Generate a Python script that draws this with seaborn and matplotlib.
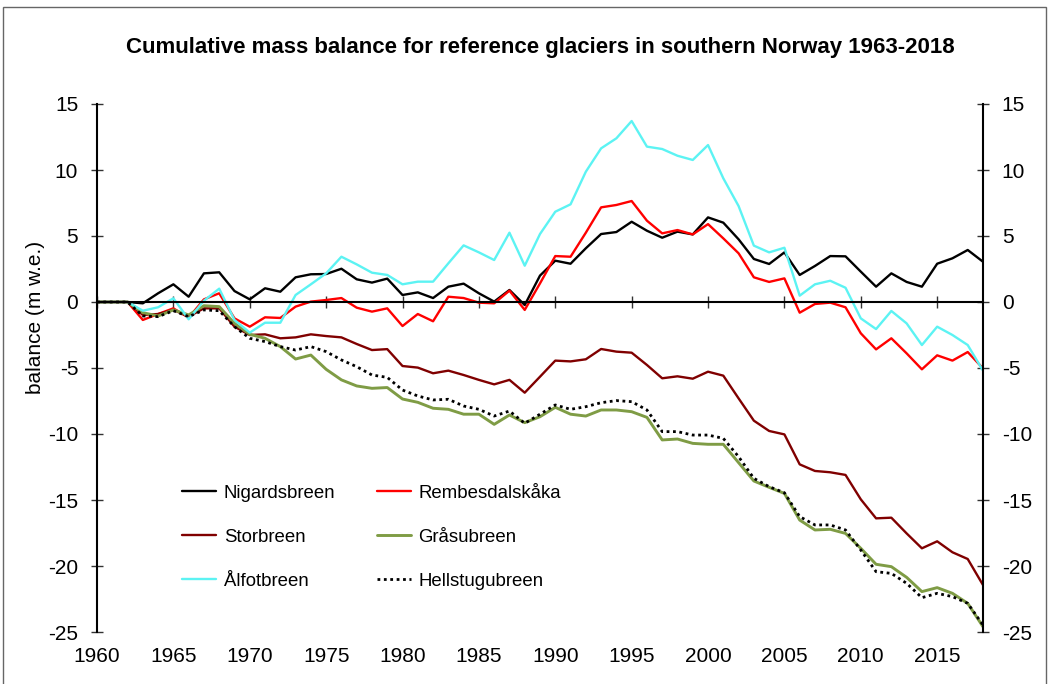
import numpy as np
import pandas as pd
import seaborn as sns
import matplotlib.pyplot as plt
from matplotlib.patches import Rectangle

years = list(range(1960, 2019))

nigardsbreen = [0, 0, 0, -0.1, 0.66, 1.34, 0.4, 2.17, 2.25, 0.83, 0.2, 1.04, 0.78, 1.87, 2.1, 2.12, 2.52, 1.72, 1.47, 1.77,
                0.53, 0.73, 0.3, 1.16, 1.39, 0.66, 0.03, 0.91, -0.23, 2.0, 3.13, 2.9, 4.07, 5.15, 5.3, 6.08, 5.4, 4.87, 5.33,
                5.12, 6.41, 6.01, 4.75, 3.26, 2.88, 3.76, 2.05, 2.73, 3.48, 3.46, 2.3, 1.16, 2.17, 1.52, 1.16, 2.9, 3.31, 3.94, 3.05]
rembesdalskaka = [0, 0, 0, -1.36, -0.91, -0.48, -1.19, 0.2, 0.66, -1.24, -1.87, -1.16, -1.21, -0.35, 0.03, 0.15, 0.3, -0.43, -0.73, -0.48,
                  -1.82, -0.91, -1.46, 0.4, 0.3, -0.05, -0.1, 0.86, -0.6, 1.41, 3.48, 3.43, 5.25, 7.17, 7.35, 7.65, 6.16, 5.2, 5.45,
                  5.12, 5.9, 4.82, 3.69, 1.87, 1.52, 1.79, -0.81, -0.15, -0.05, -0.4, -2.37, -3.59, -2.75, -3.89, -5.1, -4.04, -4.44, -3.79, -5.03]
storbreen = [0, 0, 0, -0.98, -0.91, -0.6, -1.11, -0.48, -0.48, -1.87, -2.5, -2.45, -2.75, -2.68, -2.45, -2.58, -2.68, -3.18, -3.64, -3.57,
             -4.85, -4.97, -5.4, -5.2, -5.53, -5.9, -6.24, -5.9, -6.87, -5.66, -4.44, -4.5, -4.34, -3.56, -3.76, -3.84, -4.77, -5.78, -5.63,
             -5.81, -5.28, -5.58, -7.3, -8.99, -9.77, -10.03, -12.3, -12.8, -12.9, -13.1, -14.95, -16.39, -16.34, -17.53, -18.66, -18.13, -18.96, -19.47, -21.44]
grasubreen = [0, 0, 0, -0.81, -1.06, -0.6, -0.98, -0.28, -0.35, -1.62, -2.45, -2.75, -3.38, -4.32, -4.02, -5.1, -5.9, -6.36, -6.54, -6.48,
              -7.35, -7.6, -8.05, -8.13, -8.5, -8.5, -9.27, -8.56, -9.14, -8.69, -7.98, -8.5, -8.64, -8.18, -8.18, -8.31, -8.74, -10.45, -10.38,
              -10.71, -10.78, -10.78, -12.17, -13.56, -14.04, -14.5, -16.52, -17.27, -17.22, -17.53, -18.66, -19.87, -20.05, -20.86, -21.94, -21.64, -22.07, -22.83, -24.6]
alfotbreen = [0, 0, 0, -0.66, -0.4, 0.28, -1.31, 0.1, 1.01, -1.36, -2.32, -1.57, -1.57, 0.53, 1.34, 2.17, 3.43, 2.85, 2.22, 2.05,
              1.34, 1.54, 1.54, 2.93, 4.29, 3.76, 3.18, 5.25, 2.75, 5.15, 6.84, 7.4, 9.87, 11.64, 12.4, 13.71, 11.77, 11.59, 11.08,
              10.76, 11.89, 9.37, 7.27, 4.27, 3.76, 4.11, 0.48, 1.34, 1.61, 1.08, -1.24, -2.05, -0.68, -1.62, -3.26, -1.87, -2.5, -3.26, -5.2]
hellstugubreen = [0, 0, 0, -1.06, -1.11, -0.66, -1.11, -0.6, -0.66, -1.87, -2.75, -3.0, -3.38, -3.64, -3.38, -3.76, -4.39, -4.9, -5.53, -5.71,
                  -6.67, -7.12, -7.42, -7.37, -7.88, -8.13, -8.64, -8.26, -9.19, -8.5, -7.8, -8.13, -7.93, -7.63, -7.47, -7.55, -8.18, -9.82, -9.82,
                  -10.08, -10.08, -10.33, -11.72, -13.36, -13.99, -14.45, -16.26, -16.89, -16.89, -17.27, -18.79, -20.43, -20.56, -21.31, -22.4, -22.07, -22.32, -22.83, -24.47]

series = [
    ('Nigardsbreen', nigardsbreen, 'black', 1.7, '-'),
    ('Rembesdalskåka', rembesdalskaka, '#ff0000', 1.7, '-'),
    ('Storbreen', storbreen, '#800000', 1.7, '-'),
    ('Gråsubreen', grasubreen, '#7f9c45', 2.1, '-'),
    ('Ålfotbreen', alfotbreen, '#5cf3f3', 1.7, '-'),
    ('Hellstugubreen', hellstugubreen, 'black', 2.0, (0, (1, 1.3))),
]

sns.set_theme(style='white')
plt.rcParams['font.family'] = ['Liberation Sans', 'DejaVu Sans']
plt.rcParams['axes.unicode_minus'] = False
for k in ['text.color', 'axes.labelcolor', 'xtick.color', 'ytick.color']:
    plt.rcParams[k] = 'black'

fig = plt.figure(figsize=(10.49, 6.84), dpi=100)
ax = fig.add_axes([97 / 1049, 1 - 632 / 684, 886 / 1049, 528 / 684])

handles = {}
for name, vals, col, lw, ls in series:
    df = pd.DataFrame({'year': years, 'val': vals})
    sns.lineplot(data=df, x='year', y='val', ax=ax, color=col, lw=lw, linestyle=ls, label=name)
    handles[name] = ax.get_lines()[-1]

ax.set_xlim(1960, 2018)
ax.set_ylim(-25, 15)
ax.set_yticks(range(-25, 16, 5))
ax.set_xticks(range(1960, 2016, 5))

for s in ['left', 'right', 'bottom']:
    ax.spines[s].set_visible(True)
    ax.spines[s].set_color('black')
    ax.spines[s].set_linewidth(1.5)
ax.spines['top'].set_visible(False)
# zero line carries the x ticks, labels sit below the plot
ax.spines['bottom'].set_position(('data', 0))

ax.tick_params(axis='x', direction='inout', length=8, width=1, color='#333333', labelbottom=False, bottom=True)
ax.tick_params(axis='y', direction='inout', length=8, width=1, color='#333333', left=True, right=True,
               labelleft=True, labelright=True, labelsize=15, pad=9.5, labelcolor='black')

sec = ax.secondary_xaxis('bottom')
sec.spines['bottom'].set_visible(False)
sec.set_xticks(range(1960, 2016, 5))
sec.tick_params(length=0, labelsize=15, pad=11, labelcolor='black')

ax.set_xlabel('')
ax.set_ylabel('balance (m w.e.)', fontsize=15, color='black')
ax.yaxis.set_label_coords(-0.059, 0.595)

order = ['Nigardsbreen', 'Storbreen', 'Ålfotbreen', 'Rembesdalskåka', 'Gråsubreen', 'Hellstugubreen']
leg = ax.legend([handles[n] for n in order], order, ncol=2, frameon=False, fontsize=13.4,
                loc='upper left', bbox_to_anchor=(0.096, 0.279), borderaxespad=0, borderpad=0,
                handlelength=1.85, handletextpad=0.4, columnspacing=2.2, labelspacing=1.45)
for t in leg.get_texts():
    t.set_color('black')

fig.text(540 / 1049, 1 - 53 / 684, 'Cumulative mass balance for reference glaciers in southern Norway 1963-2018',
         ha='center', va='baseline', fontsize=16, fontweight='bold', color='black')

fig.patches.append(Rectangle((3 / 1049, -0.02), 1043 / 1049, 1.02 - 7 / 684, transform=fig.transFigure,
                             fill=False, edgecolor='#666666', lw=1))

fig.savefig('out.png', dpi=100)
